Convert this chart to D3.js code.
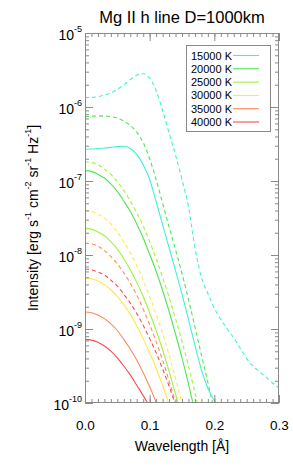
<!DOCTYPE html>
<html><head><meta charset="utf-8">
<script src="https://cdn.jsdelivr.net/npm/d3@7"></script>
<style>
html,body{margin:0;padding:0;background:#fff;}
svg{display:block;font-family:"Liberation Sans",Arial,Helvetica,sans-serif;}
</style></head>
<body><svg id="c" width="293" height="470"></svg>
<script>
// Wavelength grid [Å]
const wavelength = [0,0.01,0.02,0.03,0.04,0.05,0.06,0.07,0.08,0.09,0.10,0.11,0.12,0.13,0.14,0.15,0.16,0.17,0.18,0.19,0.20,0.21,0.22,0.23,0.24,0.25,0.26,0.27,0.28,0.29,0.30];
// Temperatures (legend)
const temperatures = ["15000 K","20000 K","25000 K","30000 K","35000 K","40000 K"];
const colors = ["#3ff2d2","#4fe651","#a2f23a","#ffe84a","#ff8a5c","#ff4a4a"];
// log10 intensity, solid curves
const solid15 = [-6.57,-6.568,-6.562,-6.555,-6.545,-6.535,-6.53,-6.56,-6.64,-6.78,-6.98,-7.28,-7.59,-7.90,-8.21,-8.53,-8.87,-9.22,-9.55,-9.80,-9.97,-10.1];
const solid20 = [-6.86,-6.87,-6.91,-6.96,-7.04,-7.14,-7.27,-7.41,-7.58,-7.77,-7.99,-8.22,-8.48,-8.76,-9.07,-9.39,-9.74,-10.12];
const solid25 = [-7.64,-7.65,-7.69,-7.74,-7.82,-7.92,-8.05,-8.20,-8.37,-8.56,-8.78,-9.02,-9.28,-9.57,-9.88,-10.2];
const solid30 = [-8.31,-8.32,-8.35,-8.40,-8.47,-8.56,-8.67,-8.80,-8.96,-9.13,-9.32,-9.53,-9.76,-10.02];
const solid35 = [-8.77,-8.78,-8.81,-8.86,-8.93,-9.02,-9.14,-9.27,-9.42,-9.59,-9.78,-9.99,-10.22];
const solid40 = [-9.14,-9.15,-9.18,-9.23,-9.30,-9.39,-9.50,-9.62,-9.76,-9.90,-10.05];
// log10 intensity, dashed curves
const dashed15 = [-5.874,-5.87,-5.86,-5.84,-5.81,-5.76,-5.70,-5.63,-5.57,-5.55,-5.61,-5.78,-6.05,-6.35,-6.65,-6.98,-7.35,-7.90,-8.30,-8.52,-8.72,-8.87,-9.00,-9.12,-9.26,-9.40,-9.50,-9.58,-9.65,-9.73,-9.80];
const dashed20 = [-6.13,-6.125,-6.12,-6.12,-6.13,-6.15,-6.19,-6.25,-6.34,-6.48,-6.70,-6.98,-7.30,-7.62,-7.93,-8.25,-8.60,-8.97,-9.35,-9.72,-10.1];
const dashed25 = [-6.74,-6.75,-6.78,-6.84,-6.91,-7.01,-7.13,-7.27,-7.43,-7.61,-7.82,-8.05,-8.30,-8.57,-8.86,-9.17,-9.50,-9.86,-10.24];
const dashed30 = [-7.40,-7.41,-7.45,-7.50,-7.58,-7.69,-7.82,-7.97,-8.14,-8.34,-8.56,-8.80,-9.06,-9.35,-9.67,-10.0,-10.36];
const dashed35 = [-7.84,-7.85,-7.88,-7.94,-8.02,-8.12,-8.24,-8.38,-8.54,-8.73,-8.94,-9.17,-9.42,-9.70,-10.0,-10.32];
const dashed40 = [-8.19,-8.20,-8.23,-8.27,-8.34,-8.42,-8.53,-8.65,-8.79,-8.95,-9.13,-9.32,-9.54,-9.77,-10.03];
const xTicks = [0,0.1,0.2,0.3];
const yTicks = [-5,-6,-7,-8,-9,-10];

const solids = [solid15,solid20,solid25,solid30,solid35,solid40];
const dashes = [dashed15,dashed20,dashed25,dashed30,dashed35,dashed40];

const svg = d3.select("#c");
const L=85, R=279, T=33, B=403;
const x = d3.scaleLinear().domain([0,0.3]).range([L,R]);
const y = d3.scaleLog().domain([1e-10,1e-5]).range([B,T]);
const axisCol = "#8a8a8a";

svg.append("defs").append("clipPath").attr("id","clip")
  .append("rect").attr("x",L).attr("y",T).attr("width",R-L).attr("height",B-T);

const line = d3.line().x(d=>x(d[0])).y(d=>y(Math.pow(10,d[1]))).curve(d3.curveMonotoneX);
const g = svg.append("g").attr("clip-path","url(#clip)");
function draw(arr, col, dash){
  const pts = arr.map((v,i)=>[wavelength[i],v]);
  g.append("path").attr("d",line(pts)).attr("fill","none").attr("stroke",col)
   .attr("stroke-width",1.1).attr("stroke-dasharray",dash?"4,3":null);
}
dashes.forEach((a,i)=>draw(a,colors[i],true));
solids.forEach((a,i)=>draw(a,colors[i],false));

// Axes (IDL style box with inward ticks)
const ax = svg.append("g");
ax.append("rect").attr("x",L+0.5).attr("y",T+0.5).attr("width",R-L-1).attr("height",B-T-1)
  .attr("fill","none").attr("stroke",axisCol).attr("stroke-width",1);
const xMinor = d3.range(0,0.3001,0.01);
ax.append("g").attr("transform",`translate(0,${B})`)
  .call(d3.axisBottom(x).tickValues(xMinor).tickSize(-4).tickFormat(""))
  .call(s=>s.select(".domain").remove()).call(s=>s.selectAll("line").attr("stroke",axisCol));
ax.append("g").attr("transform",`translate(0,${B})`)
  .call(d3.axisBottom(x).tickValues(xTicks).tickSize(-8).tickFormat(d3.format(".1f")).tickPadding(17))
  .call(s=>s.select(".domain").remove()).call(s=>s.selectAll("line").attr("stroke",axisCol))
  .call(s=>s.selectAll("text").attr("fill","#000").attr("font-size",13.5).attr("font-family","Liberation Sans, Arial, sans-serif"));
ax.append("g").attr("transform",`translate(0,${T})`)
  .call(d3.axisTop(x).tickValues(xMinor).tickSize(-4).tickFormat(""))
  .call(s=>s.select(".domain").remove()).call(s=>s.selectAll("line").attr("stroke",axisCol));
ax.append("g").attr("transform",`translate(0,${T})`)
  .call(d3.axisTop(x).tickValues(xTicks).tickSize(-8).tickFormat(""))
  .call(s=>s.select(".domain").remove()).call(s=>s.selectAll("line").attr("stroke",axisCol));
const yMinor = [];
for(let e=-10;e<-5;e++) for(let m=2;m<=9;m++) yMinor.push(m*Math.pow(10,e));
const yMajor = yTicks.map(e=>Math.pow(10,e));
[[d3.axisLeft,L],[d3.axisRight,R]].forEach(([fn,pos])=>{
  ax.append("g").attr("transform",`translate(${pos},0)`)
    .call(fn(y).tickValues(yMinor).tickSize(-4).tickFormat(""))
    .call(s=>s.select(".domain").remove()).call(s=>s.selectAll("line").attr("stroke",axisCol));
  ax.append("g").attr("transform",`translate(${pos},0)`)
    .call(fn(y).tickValues(yMajor).tickSize(-8).tickFormat(""))
    .call(s=>s.select(".domain").remove()).call(s=>s.selectAll("line").attr("stroke",axisCol));
});
// y tick labels 10^n
yTicks.forEach(e=>{
  const t = svg.append("text").attr("x",82).attr("y",y(Math.pow(10,e))+7)
    .attr("text-anchor","end").attr("font-size",14).attr("fill","#000");
  t.append("tspan").text("10");
  t.append("tspan").attr("font-size",9).attr("dy",-8).text(String(e));
});

// Title
svg.append("text").attr("x",(L+R)/2).attr("y",23).attr("text-anchor","middle")
  .attr("font-size",16.5).attr("fill","#000").text("Mg II h line D=1000km");
// X label
svg.append("text").attr("x",(L+R)/2).attr("y",451).attr("text-anchor","middle")
  .attr("font-size",14).attr("fill","#000").text("Wavelength [Å]");
// Y label
const yl = svg.append("text").attr("transform",`translate(38,${(T+B)/2}) rotate(-90)`)
  .attr("text-anchor","middle").attr("font-size",14).attr("fill","#000");
const parts = [["Intensity [erg s",0],["-1",1],[" cm",0],["-2",1],[" sr",0],["-1",1],[" Hz",0],["-1",1],["]",0]];
let prevSup=false;
parts.forEach(([s,sup])=>{
  const ts = yl.append("tspan").text(s);
  if(sup){ts.attr("font-size",9).attr("dy",-7);prevSup=true;}
  else if(prevSup){ts.attr("dy",7);prevSup=false;}
});

// Legend
const lg = svg.append("g");
lg.append("rect").attr("x",186.5).attr("y",45.5).attr("width",84).attr("height",86)
  .attr("fill","#fff").attr("stroke",axisCol).attr("stroke-width",1);
temperatures.forEach((t,i)=>{
  const yy = 55.5 + i*13.3;
  lg.append("text").attr("x",191).attr("y",yy+4).attr("font-size",11).attr("fill","#000").text(t);
  lg.append("line").attr("x1",233).attr("x2",259).attr("y1",yy).attr("y2",yy)
    .attr("stroke",colors[i]).attr("stroke-width",1.1);
});
</script></body></html>
